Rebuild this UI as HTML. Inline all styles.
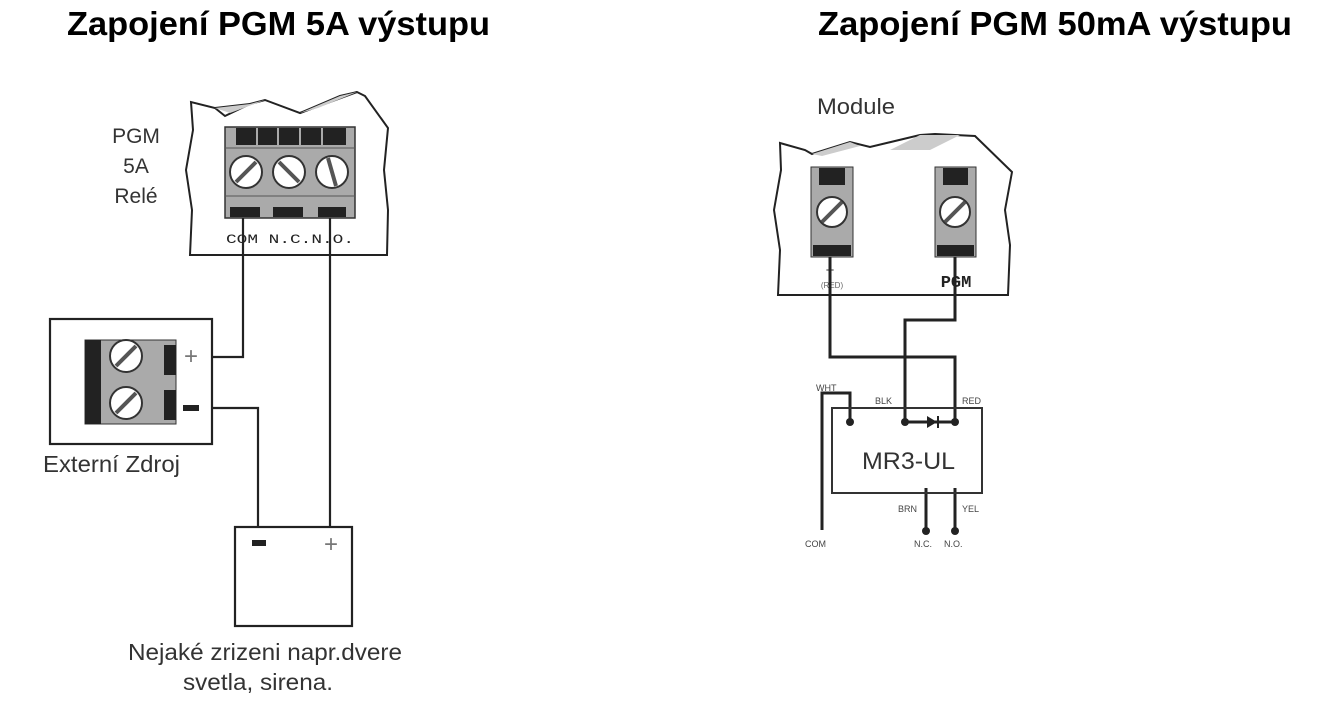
<!DOCTYPE html>
<html><head><meta charset="utf-8"><style>
html,body{margin:0;padding:0;background:#fff;}
svg{display:block;font-family:"Liberation Sans",Arial,sans-serif;}
</style></head><body>
<svg width="1321" height="702" viewBox="0 0 1321 702" xmlns="http://www.w3.org/2000/svg">
<text x="67" y="35" font-size="33" font-weight="bold" fill="#000" textLength="423" lengthAdjust="spacingAndGlyphs">Zapojení PGM 5A výstupu</text>
<text x="818" y="35" font-size="33" font-weight="bold" fill="#000" textLength="474" lengthAdjust="spacingAndGlyphs">Zapojení PGM 50mA výstupu</text>

<!-- LEFT MODULE -->
<g stroke="#222" stroke-width="2" fill="none">
<path d="M190,255 L192,210 L186,170 L193,130 L191,102 L215,108 L225,116 L250,104 L265,100 L300,113 L340,96 L357,92 L365,96 L388,128 L384,170 L388,210 L387,255 Z" fill="#fff"/>
<path d="M215,108 L250,104 M300,113 L357,92" />
</g>
<polygon points="250,104 265,100 230,113 215,108" fill="#ccc"/>
<polygon points="300,113 340,96 357,92 318,108" fill="#ccc"/>
<rect x="225" y="127" width="130" height="91" fill="#aaa" stroke="#333" stroke-width="1.5"/>
<rect x="236" y="128" width="110" height="17" fill="#222"/>
<g stroke="#aaa" stroke-width="2"><line x1="257" y1="128" x2="257" y2="145"/><line x1="278" y1="128" x2="278" y2="145"/><line x1="300" y1="128" x2="300" y2="145"/><line x1="322" y1="128" x2="322" y2="145"/></g>
<line x1="225" y1="148" x2="355" y2="148" stroke="#555"/>
<line x1="225" y1="196" x2="355" y2="196" stroke="#555"/>
<rect x="230" y="207" width="30" height="10" fill="#222"/>
<rect x="273" y="207" width="30" height="10" fill="#222"/>
<rect x="318" y="207" width="28" height="10" fill="#222"/>
<g stroke="#333" stroke-width="2" fill="#fff">
<circle cx="246" cy="172" r="16"/><circle cx="289" cy="172" r="16"/><circle cx="332" cy="172" r="16"/>
</g>
<g stroke="#555" stroke-width="4"><line x1="236" y1="182" x2="256" y2="162"/><line x1="279" y1="162" x2="299" y2="182"/><line x1="328" y1="158" x2="336" y2="186"/></g>
<text x="226" y="243" font-size="13" font-family="Liberation Mono,monospace" fill="#222" textLength="128" lengthAdjust="spacingAndGlyphs">COM N.C.N.O.</text>
<g font-size="21" fill="#333" text-anchor="middle"><text x="136" y="143">PGM</text><text x="136" y="173">5A</text><text x="136" y="203">Relé</text></g>

<g stroke="#222" stroke-width="2.2" fill="none">
<polyline points="243,218 243,357 212,357"/>
<polyline points="330,218 330,527"/>
<polyline points="212,408 258,408 258,527"/>
<rect x="50" y="319" width="162" height="125" fill="none"/>
<rect x="235" y="527" width="117" height="99"/>
</g>
<rect x="85" y="340" width="91" height="84" fill="#aaa" stroke="#333"/>
<rect x="85" y="340" width="16" height="84" fill="#222"/>
<rect x="164" y="345" width="12" height="30" fill="#222"/>
<rect x="164" y="390" width="12" height="30" fill="#222"/>
<g stroke="#333" stroke-width="2" fill="#fff"><circle cx="126" cy="356" r="16"/><circle cx="126" cy="403" r="16"/></g>
<g stroke="#555" stroke-width="4"><line x1="116" y1="366" x2="136" y2="346"/><line x1="116" y1="413" x2="136" y2="393"/></g>
<text x="191" y="364" font-size="24" fill="#777" text-anchor="middle">+</text>
<rect x="183" y="405" width="16" height="6" fill="#222"/>
<rect x="252" y="540" width="14" height="6" fill="#222"/>
<text x="331" y="552" font-size="24" fill="#777" text-anchor="middle">+</text>
<text x="43" y="472" font-size="23" fill="#333" textLength="137" lengthAdjust="spacingAndGlyphs">Externí Zdroj</text>
<g font-size="23" fill="#333"><text x="128" y="660" textLength="274" lengthAdjust="spacingAndGlyphs">Nejaké zrizeni napr.dvere</text><text x="183" y="690" textLength="150" lengthAdjust="spacingAndGlyphs">svetla, sirena.</text></g>

<!-- RIGHT MODULE -->
<text x="817" y="114" font-size="22" fill="#333" textLength="78" lengthAdjust="spacingAndGlyphs">Module</text>
<g stroke="#222" stroke-width="2" fill="none">
<path d="M778,295 L780,250 L774,210 L781,170 L780,143 L805,150 L812,154 L850,142 L870,147 L920,135 L935,134 L975,136 L1012,172 L1005,210 L1010,245 L1008,295 Z" fill="#fff"/>
</g>
<polygon points="812,154 850,142 860,146 822,156" fill="#ccc"/>
<polygon points="890,150 920,135 960,135 930,150" fill="#ccc"/>
<g>
<rect x="811" y="167" width="42" height="90" fill="#aaa" stroke="#333"/>
<rect x="819" y="168" width="26" height="17" fill="#222"/>
<rect x="813" y="245" width="38" height="11" fill="#222"/>
<rect x="935" y="167" width="41" height="90" fill="#aaa" stroke="#333"/>
<rect x="943" y="168" width="25" height="17" fill="#222"/>
<rect x="937" y="245" width="37" height="11" fill="#222"/>
</g>
<g stroke="#333" stroke-width="2" fill="#fff"><circle cx="832" cy="212" r="15"/><circle cx="955" cy="212" r="15"/></g>
<g stroke="#555" stroke-width="4"><line x1="822" y1="222" x2="842" y2="202"/><line x1="945" y1="222" x2="965" y2="202"/></g>
<text x="830" y="275" font-size="15" fill="#333" text-anchor="middle">+</text>
<text x="832" y="288" font-size="8" fill="#666" text-anchor="middle">(RED)</text>
<text x="956" y="287" font-size="17" font-weight="bold" font-family="Liberation Mono,monospace" fill="#222" text-anchor="middle">PGM</text>

<g stroke="#222" stroke-width="3" fill="none">
<polyline points="830,257 830,357 955,357 955,422"/>
<polyline points="955,257 955,320 905,320 905,422"/>
<polyline points="850,422 850,393 822,393 822,530"/>
<line x1="905" y1="422" x2="955" y2="422"/>
<line x1="926" y1="488" x2="926" y2="531"/>
<line x1="955" y1="488" x2="955" y2="531"/>
</g>
<rect x="832" y="408" width="150" height="85" fill="none" stroke="#333" stroke-width="2"/>
<polygon points="927,416 937,422 927,428" fill="#222"/>
<line x1="938" y1="416" x2="938" y2="428" stroke="#222" stroke-width="2"/>
<g fill="#222"><circle cx="850" cy="422" r="4"/><circle cx="905" cy="422" r="4"/><circle cx="955" cy="422" r="4"/><circle cx="926" cy="531" r="4"/><circle cx="955" cy="531" r="4"/></g>
<text x="862" y="469" font-size="24" fill="#333" textLength="93" lengthAdjust="spacingAndGlyphs">MR3-UL</text>
<g font-size="9" fill="#444">
<text x="816" y="391">WHT</text><text x="875" y="404">BLK</text><text x="962" y="404">RED</text>
<text x="898" y="512">BRN</text><text x="962" y="512">YEL</text>
<text x="805" y="547">COM</text><text x="914" y="547">N.C.</text><text x="944" y="547">N.O.</text>
</g>
</svg>
</body></html>
